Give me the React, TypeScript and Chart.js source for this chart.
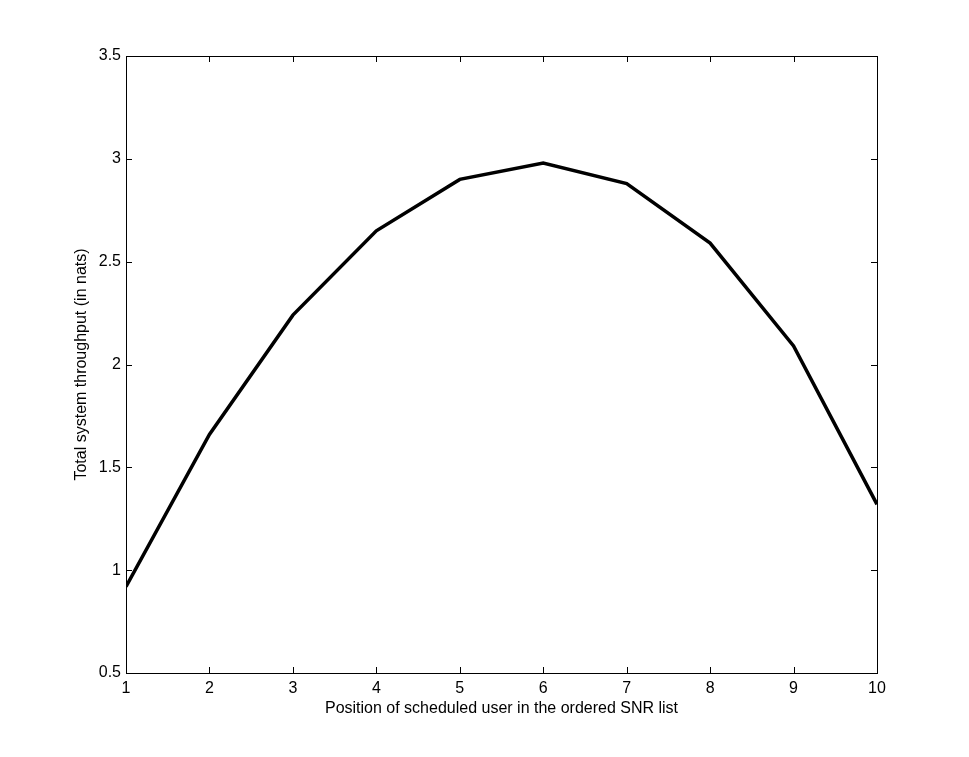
import React, { useEffect, useRef } from "react";
import { Chart, registerables } from "chart.js";

Chart.register(...registerables);

const positions = [1, 2, 3, 4, 5, 6, 7, 8, 9, 10];
const throughput = [0.92, 1.66, 2.24, 2.65, 2.9, 2.98, 2.88, 2.59, 2.09, 1.32];
const xTicks = [1, 2, 3, 4, 5, 6, 7, 8, 9, 10];
const yTicks = [0.5, 1, 1.5, 2, 2.5, 3, 3.5];

const FONT = "'Liberation Sans', Arial, Helvetica, sans-serif";

const boxTicks = {
  id: "boxTicks",
  afterDraw(chart: any) {
    const { ctx, chartArea } = chart;
    const { left, right, top, bottom } = chartArea;
    const xs = chart.scales.x;
    const ys = chart.scales.y;
    const len = 6;
    ctx.save();
    ctx.strokeStyle = "#000";
    ctx.lineWidth = 1;
    ctx.beginPath();
    for (const v of xTicks) {
      const px = Math.round(xs.getPixelForValue(v)) + 0.5;
      ctx.moveTo(px, bottom);
      ctx.lineTo(px, bottom - len);
      ctx.moveTo(px, top);
      ctx.lineTo(px, top + len);
    }
    for (const v of yTicks) {
      const py = Math.round(ys.getPixelForValue(v)) + 0.5;
      ctx.moveTo(left, py);
      ctx.lineTo(left + len, py);
      ctx.moveTo(right, py);
      ctx.lineTo(right - len, py);
    }
    ctx.stroke();
    ctx.strokeRect(Math.round(left) + 0.5, Math.round(top) + 0.5, Math.round(right - left), Math.round(bottom - top));
    ctx.restore();
  },
};

export default function App() {
  const ref = useRef<HTMLCanvasElement>(null);
  useEffect(() => {
    if (!ref.current) return;
    const chart = new Chart(ref.current, {
      type: "line",
      data: {
        datasets: [
          {
            data: positions.map((x, i) => ({ x, y: throughput[i] })),
            borderColor: "#000",
            borderWidth: 3.5,
            pointRadius: 0,
            tension: 0,
            fill: false,
          },
        ],
      },
      options: {
        animation: false,
        responsive: false,
        maintainAspectRatio: false,
        layout: { padding: { left: 0, top: 56, right: 92, bottom: 0 } },
        plugins: { legend: { display: false }, tooltip: { enabled: false } },
        scales: {
          x: {
            type: "linear",
            min: 1,
            max: 10,
            afterFit: (s: any) => {
              s.height = 84;
            },
            afterBuildTicks: (s: any) => {
              s.ticks = xTicks.map((v) => ({ value: v }));
            },
            grid: { display: false, drawTicks: false },
            border: { display: false },
            ticks: { color: "#000", font: { family: FONT, size: 16 }, padding: 6, maxRotation: 0 },
            title: {
              display: true,
              text: "Position of scheduled user in the ordered SNR list",
              color: "#000",
              font: { family: FONT, size: 16 },
              padding: { top: 0, bottom: 39 },
            },
          },
          y: {
            type: "linear",
            min: 0.5,
            max: 3.5,
            afterFit: (s: any) => {
              s.width = 126;
            },
            afterBuildTicks: (s: any) => {
              s.ticks = yTicks.map((v) => ({ value: v }));
            },
            grid: { display: false, drawTicks: false },
            border: { display: false },
            ticks: {
              color: "#000",
              font: { family: FONT, size: 16 },
              padding: 5,
              callback: (v: any) => String(v),
            },
            title: {
              display: true,
              text: "Total system throughput (in nats)",
              color: "#000",
              font: { family: FONT, size: 16 },
              padding: { top: 72, bottom: 0 },
            },
          },
        },
      },
      plugins: [boxTicks],
    });
    return () => chart.destroy();
  }, []);
  return (
    <div style={{ position: "fixed", left: 0, top: 0, width: 969, height: 757, background: "#fff" }}>
      <canvas ref={ref} width={969} height={757} style={{ width: 969, height: 757 }} />
    </div>
  );
}
